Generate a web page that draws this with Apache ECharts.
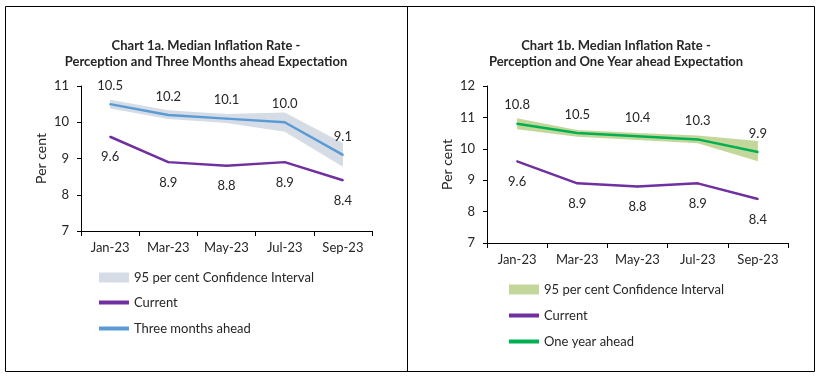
<!DOCTYPE html>
<html>
<head>
<meta charset="utf-8">
<script src="https://cdn.jsdelivr.net/npm/echarts@6/dist/echarts.min.js"></script>
<style>html,body{margin:0;padding:0;background:#fff}#c{width:820px;height:376px}</style>
</head>
<body>
<div id="c"></div>
<script>
const categories = ['Jan-23', 'Mar-23', 'May-23', 'Jul-23', 'Sep-23'];
const current = [9.6, 8.9, 8.8, 8.9, 8.4];
const threeMonths = [10.5, 10.2, 10.1, 10.0, 9.1];
const threeMonthsLow = [10.38, 10.09, 9.98, 9.74, 8.77];
const threeMonthsHigh = [10.62, 10.33, 10.23, 10.27, 9.43];
const oneYear = [10.8, 10.5, 10.4, 10.3, 9.9];
const oneYearLow = [10.62, 10.38, 10.28, 10.18, 9.6];
const oneYearHigh = [10.97, 10.6, 10.5, 10.42, 10.25];
const titles = [
  'Chart 1a. Median Inflation Rate -\nPerception and Three Months ahead Expectation',
  'Chart 1b. Median Inflation Rate -\nPerception and One Year ahead Expectation'
];

const FONT = 'Lato';
const TXT = '#262626';
const C_CUR = '#7030A0', C_3M = '#5B9BD5', C_1Y = '#00B050';
const C_BAND1 = '#D6DCE5', C_BAND2 = '#C4D79B';

const chart = echarts.init(document.getElementById('c'), null, {renderer: 'canvas'});
const fmt = p => Number(p.value).toFixed(1);
const diff = (hi, lo) => hi.map((v, i) => +(v - lo[i]).toFixed(3));

function xAxis(idx) {
  return {
    type: 'category', gridIndex: idx, data: categories, boundaryGap: true,
    axisLine: {lineStyle: {color: '#000', width: 1}},
    axisTick: {show: true, length: 5, lineStyle: {color: '#000'}, alignWithLabel: false},
    axisLabel: {interval: 0, color: TXT, fontFamily: FONT, fontSize: 13, margin: 10}
  };
}
function yAxis(idx, max) {
  return {
    type: 'value', gridIndex: idx, min: 7, max: max, interval: 1,
    name: 'Per cent', nameLocation: 'middle', nameGap: 33, nameRotate: 90,
    nameTextStyle: {color: TXT, fontFamily: FONT, fontSize: 14},
    splitLine: {show: false},
    axisLine: {show: true, lineStyle: {color: '#000', width: 1}},
    axisTick: {show: true, length: 4, lineStyle: {color: '#000'}},
    axisLabel: {color: TXT, fontFamily: FONT, fontSize: 13, margin: 12}
  };
}
function lineSeries(name, data, color, idx, pos, dist) {
  return {
    name: name, type: 'line', xAxisIndex: idx, yAxisIndex: idx, data: data,
    symbol: 'circle', symbolSize: 2, showSymbol: true,
    lineStyle: {color: color, width: 2.5}, itemStyle: {color: color},
    label: {show: true, position: pos, distance: dist, formatter: fmt,
      color: TXT, fontFamily: FONT, fontSize: 13},
    labelLayout: {hideOverlap: false},
    z: 5
  };
}
function bandSeries(idx, lo, hi, color, stack) {
  return [
    {name: 'base' + idx, type: 'line', xAxisIndex: idx, yAxisIndex: idx, data: lo,
     stack: stack, symbol: 'none', lineStyle: {opacity: 0}, silent: true, z: 2},
    {name: '95 per cent Confidence Interval', type: 'line', xAxisIndex: idx, yAxisIndex: idx,
     data: diff(hi, lo), stack: stack, symbol: 'none', lineStyle: {opacity: 0},
     itemStyle: {color: color}, areaStyle: {color: color, opacity: 1}, silent: true, z: 2}
  ];
}
function legend(left, top, name, color, h) {
  return {
    left: left, top: top, orient: 'horizontal', selectedMode: false,
    itemWidth: 30, itemHeight: h, padding: 0,
    textStyle: {color: TXT, fontFamily: FONT, fontSize: 13},
    data: [{name: name, icon: 'rect', itemStyle: {color: color}}]
  };
}

chart.setOption({
  animation: false,
  backgroundColor: '#fff',
  title: [
    {text: titles[0], left: 201, top: 33, textAlign: 'center',
     textStyle: {fontFamily: FONT, fontWeight: 'bold', fontSize: 13, color: TXT, lineHeight: 16}},
    {text: titles[1], left: 611, top: 33, textAlign: 'center',
     textStyle: {fontFamily: FONT, fontWeight: 'bold', fontSize: 13, color: TXT, lineHeight: 16}}
  ],
  grid: [
    {left: 81, top: 86, right: 448, bottom: 145, containLabel: false},
    {left: 487, top: 86, right: 32, bottom: 133, containLabel: false}
  ],
  xAxis: [xAxis(0), xAxis(1)],
  yAxis: [yAxis(0, 11), yAxis(1, 12)],
  legend: [
    legend(99, 271, '95 per cent Confidence Interval', C_BAND1, 10),
    legend(99, 296, 'Current', C_CUR, 4),
    legend(99, 322, 'Three months ahead', C_3M, 4),
    legend(509, 283, '95 per cent Confidence Interval', C_BAND2, 10),
    legend(509, 309, 'Current', C_CUR, 4),
    legend(509, 335, 'One year ahead', C_1Y, 4)
  ],
  series: [
    ...bandSeries(0, threeMonthsLow, threeMonthsHigh, C_BAND1, 'ci0'),
    lineSeries('Current', current, C_CUR, 0, 'bottom', 13),
    lineSeries('Three months ahead', threeMonths, C_3M, 0, 'top', 11),
    ...bandSeries(1, oneYearLow, oneYearHigh, C_BAND2, 'ci1'),
    lineSeries('Current', current, C_CUR, 1, 'bottom', 13),
    lineSeries('One year ahead', oneYear, C_1Y, 1, 'top', 11)
  ],
  graphic: [
    {type: 'rect', shape: {x: 5.5, y: 6.5, width: 809, height: 365}, style: {fill: null, stroke: '#000', lineWidth: 1}, silent: true},
    {type: 'line', shape: {x1: 407.5, y1: 6.5, x2: 407.5, y2: 371.5}, style: {stroke: '#000', lineWidth: 1}, silent: true}
  ]
});
</script>
</body>
</html>
